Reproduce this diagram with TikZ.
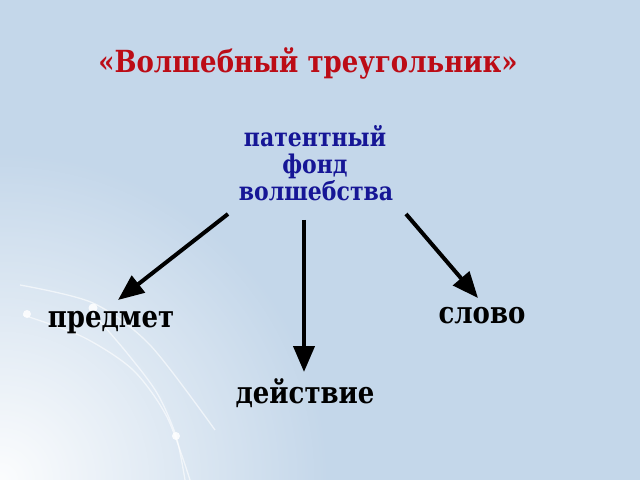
\documentclass[tikz,border=0pt]{standalone}
\usepackage{fontspec}
\setmainfont{DejaVu Serif}
\usetikzlibrary{arrows.meta,fadings}
\definecolor{bgblue}{RGB}{196,215,234}
\definecolor{titlered}{RGB}{188,12,22}
\definecolor{textblue}{RGB}{22,22,150}
\tikzfading[name=glowfade, inner color=transparent!0, outer color=transparent!100]
\newcommand\talltxt[1]{\scalebox{1}[1.17]{#1}}
\tikzset{
  titletxt/.style={anchor=base, text=titlered, font=\bfseries\fontsize{26}{30}\selectfont, inner sep=0pt},
  bluetxt/.style={anchor=base, text=textblue, font=\bfseries\fontsize{22}{26}\selectfont, inner sep=0pt},
  blacktxt/.style={anchor=base, text=black, font=\bfseries\fontsize{26}{30}\selectfont, inner sep=0pt},
  arr/.style={line width=4pt, -{Triangle[length=26pt,width=21pt]}},
  swoosh/.style={white, opacity=0.6, line width=1.3pt},
  glowdot/.style={white, opacity=0.85}
}
\begin{document}
\begin{tikzpicture}[x=1pt,y=1pt]
\useasboundingbox (0,0) rectangle (640,480);
\fill[bgblue] (0,0) rectangle (640,480);
\begin{scope}
\clip (0,0) rectangle (640,480);
\fill[white, opacity=0.95, path fading=glowfade] (0,0) circle (330);
\draw[swoosh] plot[smooth] coordinates {(20,195) (93,177) (150,135) (215,50)};
\draw[swoosh] plot[smooth] coordinates {(23,165) (83,143) (133,110) (167,63) (190,0)};
\draw[swoosh] plot[smooth] coordinates {(90,170) (127,127) (157,87) (176,44) (185,0)};
\fill[glowdot] (27,166) circle (4);
\fill[glowdot] (93,172) circle (4.5);
\fill[glowdot] (176,44) circle (4);
\end{scope}
\node[titletxt] (title) at (308,407) {\talltxt{«Волшебный треугольник»}};
\node[bluetxt] (l1) at (315,333) {\talltxt{патентный}};
\node[bluetxt] (l2) at (315,306) {\talltxt{фонд}};
\node[bluetxt] (l3) at (316,279) {\talltxt{волшебства}};
\node[blacktxt] (predmet) at (111,153) {\talltxt{предмет}};
\node[blacktxt] (slovo) at (482,157) {\talltxt{слово}};
\node[blacktxt] (deistvie) at (305,77) {\talltxt{действие}};
\draw[arr] ([shift={(-88,-13)}]l3.base) -- ([shift={(7,27)}]predmet.base);
\draw[arr] ([shift={(-12,-19)}]l3.base) -- ([shift={(-1,31)}]deistvie.base);
\draw[arr] ([shift={(90,-13)}]l3.base) -- ([shift={(-4,25)}]slovo.base);
\end{tikzpicture}
\end{document}
